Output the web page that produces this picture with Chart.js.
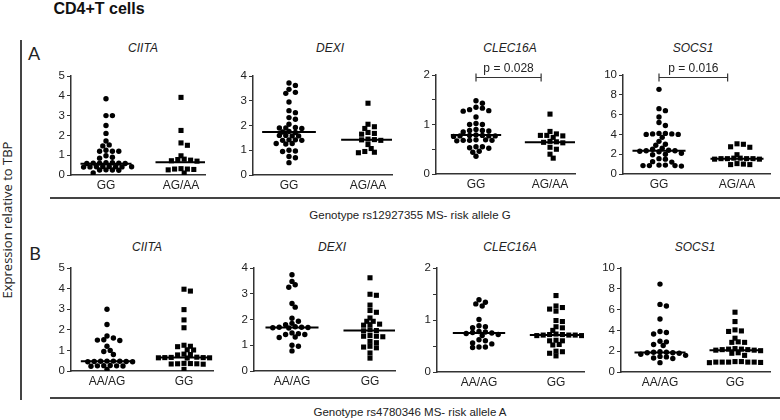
<!DOCTYPE html>
<html>
<head>
<meta charset="utf-8">
<script src="https://cdn.jsdelivr.net/npm/chart.js@4.4.1/dist/chart.umd.min.js"></script>
<style>
  html, body { margin:0; padding:0; background:#fff; }
  body { width:780px; height:420px; position:relative; overflow:hidden; font-family:"Liberation Sans", Arial, sans-serif; color:#222; }
  .t { position:absolute; white-space:nowrap; transform:translate(-50%,-50%); }
  canvas { position:absolute; }
  .hl { position:absolute; background:#444; }
</style>
</head>
<body>
<script>
// ---------- data ----------
const genes = ['CIITA', 'DEXI', 'CLEC16A', 'SOCS1'];
const catsA = ['GG', 'AG/AA'];
const catsB = ['AA/AG', 'GG'];
const yMaxes = [5, 4, 2, 10];
const ySteps = [1, 1, 0.5, 2];

// Row A : rs12927355
const A_CIITA_GG = [3.85, 3.0, 3.0, 2.5, 2.1, 1.72, 1.52, 1.47, 1.25, 1.2, 1.2, 1.2, 0.97, 0.9, 0.85, 0.62, 0.62, 0.6, 0.6, 0.6, 0.58, 0.58, 0.43, 0.43, 0.42, 0.42, 0.42, 0.41, 0.41, 0.4, 0.26, 0.25, 0.25, 0.24, 0.1];
const A_CIITA_AG = [3.92, 2.25, 1.62, 1.5, 0.97, 0.8, 0.78, 0.75, 0.72, 0.7, 0.32, 0.3, 0.3, 0.28, 0.26, 0.1];
const A_DEXI_GG = [3.72, 3.62, 3.46, 3.34, 3.3, 2.95, 2.6, 2.52, 2.32, 2.25, 2.05, 1.92, 1.9, 1.88, 1.9, 1.76, 1.74, 1.72, 1.6, 1.58, 1.6, 1.58, 1.42, 1.4, 1.4, 1.42, 1.27, 1.25, 1.27, 1.0, 0.97, 0.95, 0.75, 0.7, 0.5];
const A_DEXI_AG = [2.9, 2.05, 1.95, 1.88, 1.72, 1.68, 1.65, 1.45, 1.43, 1.42, 1.4, 1.23, 1.07, 0.95, 0.92, 0.9];
const A_CLEC_GG = [1.48, 1.43, 1.35, 1.33, 1.3, 1.28, 1.27, 1.15, 1.02, 1.0, 1.0, 0.9, 0.88, 0.87, 0.85, 0.88, 0.79, 0.78, 0.77, 0.77, 0.78, 0.77, 0.76, 0.69, 0.68, 0.68, 0.67, 0.68, 0.69, 0.55, 0.53, 0.52, 0.55, 0.46, 0.44, 0.36];
const A_CLEC_AG = [1.21, 0.86, 0.81, 0.78, 0.77, 0.78, 0.74, 0.66, 0.64, 0.63, 0.65, 0.54, 0.5, 0.4, 0.32];
const A_SOCS_GG = [8.55, 6.6, 6.4, 5.75, 5.2, 4.9, 4.1, 4.05, 4.0, 4.05, 4.1, 4.0, 3.7, 3.3, 3.0, 2.9, 2.6, 2.5, 2.4, 2.35, 2.3, 2.35, 2.25, 2.1, 2.0, 1.95, 1.55, 1.5, 1.25, 1.2, 0.9, 0.85, 0.85, 0.8, 0.85, 0.9];
const A_SOCS_AG = [3.05, 3.0, 2.75, 2.7, 1.95, 1.6, 1.55, 1.55, 1.5, 1.55, 1.5, 1.6, 1.55, 1.05, 1.0, 0.95, 0.95];
const mediansA = [[0.57, 0.65], [1.74, 1.42], [0.79, 0.64], [2.35, 1.55]];

// Row B : rs4780346
const B_CIITA_AA = [3.0, 2.26, 1.7, 1.6, 1.52, 1.5, 1.48, 1.2, 1.0, 0.95, 0.8, 0.48, 0.48, 0.47, 0.47, 0.46, 0.46, 0.45, 0.45, 0.27, 0.26, 0.25, 0.25, 0.24, 0.23, 0.08];
const B_CIITA_GG = [3.97, 3.88, 2.98, 2.48, 2.1, 1.25, 1.2, 1.18, 1.03, 1.02, 0.82, 0.8, 0.78, 0.67, 0.66, 0.65, 0.65, 0.64, 0.64, 0.63, 0.37, 0.36, 0.35, 0.35, 0.34, 0.33, 0.08];
const B_DEXI_AA = [3.74, 3.48, 3.35, 3.25, 2.62, 2.48, 2.05, 1.93, 1.85, 1.8, 1.72, 1.7, 1.68, 1.69, 1.7, 1.67, 1.45, 1.42, 1.42, 1.48, 1.32, 1.3, 1.0, 0.96, 0.78];
const B_DEXI_GG = [3.62, 2.98, 2.94, 2.56, 2.35, 2.28, 2.06, 1.93, 1.93, 1.82, 1.8, 1.78, 1.6, 1.57, 1.56, 1.35, 1.35, 1.38, 1.33, 1.15, 1.1, 0.96, 0.93, 0.9, 0.7, 0.5];
const B_CLEC_AA = [1.39, 1.34, 1.31, 1.27, 1.01, 0.89, 0.87, 0.85, 0.78, 0.77, 0.76, 0.75, 0.74, 0.72, 0.7, 0.62, 0.6, 0.56, 0.54, 0.48, 0.47, 0.48];
const B_CLEC_GG = [1.47, 1.27, 1.24, 1.21, 1.17, 0.99, 0.97, 0.87, 0.85, 0.8, 0.73, 0.72, 0.72, 0.71, 0.71, 0.7, 0.7, 0.71, 0.61, 0.6, 0.6, 0.53, 0.52, 0.4, 0.39, 0.36, 0.31];
const B_SOCS_AA = [8.45, 6.5, 6.35, 5.1, 3.9, 3.8, 3.65, 2.95, 2.9, 2.65, 2.55, 1.95, 1.9, 1.85, 1.8, 1.85, 1.9, 1.7, 1.6, 1.5, 1.45, 1.35, 1.3, 0.9];
const B_SOCS_GG = [5.75, 4.85, 4.05, 3.95, 3.9, 3.25, 2.9, 2.85, 2.85, 2.25, 2.2, 2.15, 2.1, 2.1, 2.05, 2.2, 2.15, 1.85, 1.8, 1.6, 1.0, 0.95, 0.95, 0.92, 0.95, 0.9, 0.95, 1.0, 0.95];
const mediansB = [[0.47, 0.65], [1.69, 1.57], [0.75, 0.71], [1.88, 2.1]];

// significance brackets (row A)
const pLabels = ['p = 0.028', 'p = 0.016'];
const pGenes = [2, 3];
const pY = [1.96, 9.8];

const seriesA = [[A_CIITA_GG, A_CIITA_AG], [A_DEXI_GG, A_DEXI_AG], [A_CLEC_GG, A_CLEC_AG], [A_SOCS_GG, A_SOCS_AG]];
const seriesB = [[B_CIITA_AA, B_CIITA_GG], [B_DEXI_AA, B_DEXI_GG], [B_CLEC_AA, B_CLEC_GG], [B_SOCS_AA, B_SOCS_GG]];

// ---------- layout (page pixels) ----------
const boxesA = [
  {L:71, R:205, T:76, B:175, c0:106, c1:181},
  {L:253, R:392, T:76, B:175, c0:289, c1:368},
  {L:436, R:575, T:75, B:174, c0:476, c1:550},
  {L:623, R:770, T:75, B:174, c0:659, c1:737}
];
const boxesB = [
  {L:71, R:213, T:268, B:371, c0:107, c1:184},
  {L:254, R:395, T:268, B:371, c0:292, c1:370},
  {L:437, R:584, T:268, B:372, c0:479, c1:556},
  {L:621, R:770, T:268, B:372, c0:660, c1:735}
];

function addText(txt, x, y, css) {
  const d = document.createElement('div');
  d.className = 't';
  d.textContent = txt;
  d.style.left = x + 'px';
  d.style.top = y + 'px';
  Object.assign(d.style, css || {});
  document.body.appendChild(d);
}
function addLine(x, y, w, h) {
  const d = document.createElement('div');
  d.className = 'hl';
  Object.assign(d.style, {left:x+'px', top:y+'px', width:w+'px', height:h+'px'});
  document.body.appendChild(d);
}

// deterministic row-style beeswarm (pixel space -> x units)
function swarm(values, pxPerY, pxPerX) {
  const STEP = 3.2, D = 4.6;
  const order = values.map((v, i) => i).sort((a, b) => values[b] - values[a]);
  const placed = [];
  const xs = new Array(values.length);
  for (const i of order) {
    const y = values[i] * pxPerY;
    let chosen = 0;
    outer:
    for (let k = 0; k < 80; k++) {
      const signs = k === 0 ? [1] : [1, -1];
      for (const s of signs) {
        const c = s * k * STEP;
        let ok = true;
        for (const p of placed) {
          const dx = p.x - c, dy = p.y - y;
          if (dx * dx + dy * dy < D * D) { ok = false; break; }
        }
        if (ok) { chosen = c; break outer; }
      }
    }
    placed.push({x: chosen, y});
    xs[i] = chosen / pxPerX;
  }
  return xs;
}

const bracketPlugin = {
  id: 'bracket',
  afterDatasetsDraw(chart, args, opts) {
    if (!opts || !opts.text) return;
    const {ctx, scales: {x, y}} = chart;
    const x0 = x.getPixelForValue(opts.x0), x1 = x.getPixelForValue(opts.x1);
    const yy = Math.round(y.getPixelForValue(opts.y)) + 0.5;
    ctx.save();
    ctx.strokeStyle = '#333';
    ctx.lineWidth = 1.2;
    ctx.beginPath();
    ctx.moveTo(x0, yy); ctx.lineTo(x1, yy);
    ctx.moveTo(x0, yy - 4); ctx.lineTo(x0, yy + 4);
    ctx.moveTo(x1, yy - 4); ctx.lineTo(x1, yy + 4);
    ctx.stroke();
    ctx.fillStyle = '#222';
    ctx.font = '12px "Liberation Sans", Arial, sans-serif';
    ctx.textAlign = 'center';
    ctx.textBaseline = 'bottom';
    ctx.fillText(opts.text, (x0 + x1) / 2, yy - 3);
    ctx.restore();
  }
};

const PT = 22, PR = 6, YW = 32, XH = 24;

function makePanel(box, gi, vals, meds, cats, bracket) {
  const xmin = -(box.c0 - box.L) / (box.c1 - box.c0);
  const xmax = 1 + (box.R - box.c1) / (box.c1 - box.c0);
  const ymax = yMaxes[gi];
  const pxPerY = (box.B - box.T) / ymax;
  const pxPerX = (box.R - box.L) / (xmax - xmin);
  const cv = document.createElement('canvas');
  const w = box.R - box.L + YW + PR, h = box.B - box.T + PT + XH;
  cv.width = w; cv.height = h;
  cv.style.width = w + 'px'; cv.style.height = h + 'px';
  cv.style.left = (box.L - YW) + 'px';
  cv.style.top = (box.T - PT) + 'px';
  document.body.appendChild(cv);

  const pts = vals.map((arr, ci) => {
    const off = swarm(arr, pxPerY, pxPerX);
    return arr.map((v, k) => ({x: ci + off[k], y: v}));
  });
  const medLine = (ci) => [{x: ci - 0.34, y: meds[ci]}, {x: ci + 0.34, y: meds[ci]}];

  new Chart(cv, {
    type: 'scatter',
    data: {
      datasets: [
        {data: pts[0], pointStyle: 'circle', pointRadius: 2.7, backgroundColor: '#000', borderWidth: 0},
        {data: pts[1], pointStyle: 'rect', pointRadius: 3.6, backgroundColor: '#000', borderWidth: 0},
        {type: 'line', data: medLine(0), borderColor: '#000', borderWidth: 2, pointRadius: 0, showLine: true},
        {type: 'line', data: medLine(1), borderColor: '#000', borderWidth: 2, pointRadius: 0, showLine: true}
      ]
    },
    options: {
      responsive: false,
      animation: false,
      events: [],
      layout: {padding: {top: PT, right: PR, left: 0, bottom: 0}},
      plugins: {legend: {display: false}, tooltip: {enabled: false}, bracket: bracket || {}},
      scales: {
        x: {
          type: 'linear', min: xmin, max: xmax,
          afterBuildTicks: s => { s.ticks = [{value: 0}, {value: 1}]; },
          afterFit: s => { s.height = XH; },
          ticks: {callback: v => cats[v], color: '#222', font: {family: '"Liberation Sans", Arial, sans-serif', size: 12}, padding: 3, autoSkip: false, maxRotation: 0},
          grid: {display: false, drawTicks: false},
          border: {display: true, color: '#333', width: 1.5}
        },
        y: {
          min: 0, max: ymax,
          afterFit: s => { s.width = YW; },
          ticks: {stepSize: ySteps[gi], callback: v => (Math.abs(v - Math.round(v)) < 1e-9 ? String(Math.round(v)) : ''), color: '#222', font: {family: '"Liberation Sans", Arial, sans-serif', size: 11.5}, padding: 2, autoSkip: false},
          grid: {display: true, drawOnChartArea: false, drawTicks: true, tickLength: 4, color: '#333', lineWidth: 1},
          border: {display: true, color: '#333', width: 1.5}
        }
      }
    },
    plugins: [bracketPlugin]
  });
}

// ---------- static text / frame ----------
addText('CD4+T cells', 99, 9, {fontWeight: 'bold', fontSize: '16px', color: '#111'});
addText('Expression relative to TBP', 7, 220, {fontFamily: '"Open Sans", sans-serif', fontSize: '13px', transform: 'translate(-50%,-50%) rotate(-90deg)'});
addText('A', 34, 53, {fontFamily: 'Lato, sans-serif', fontSize: '18px'});
addText('B', 35, 253, {fontFamily: 'Lato, sans-serif', fontSize: '18px'});
addLine(20, 40, 1.5, 360);
addLine(50, 197, 730, 2);
addLine(50, 397, 730, 2);
addText('Genotype rs12927355 MS- risk allele G', 410, 215, {fontSize: '11.5px'});
addText('Genotype rs4780346 MS- risk allele A', 410, 412, {fontSize: '11.5px'});

const titleXA = [143, 330, 510, 693];
const titleXB = [147, 332, 510, 695];
genes.forEach((g, i) => {
  addText(g, titleXA[i], 48, {fontStyle: 'italic', fontSize: '12px'});
  addText(g, titleXB[i], 247, {fontStyle: 'italic', fontSize: '12px'});
});

genes.forEach((g, i) => {
  const bi = pGenes.indexOf(i);
  const br = bi >= 0 ? {text: pLabels[bi], x0: 0, x1: 0.88, y: pY[bi]} : null;
  makePanel(boxesA[i], i, seriesA[i], mediansA[i], catsA, br);
  makePanel(boxesB[i], i, seriesB[i], mediansB[i], catsB, null);
});
</script>
</body>
</html>
